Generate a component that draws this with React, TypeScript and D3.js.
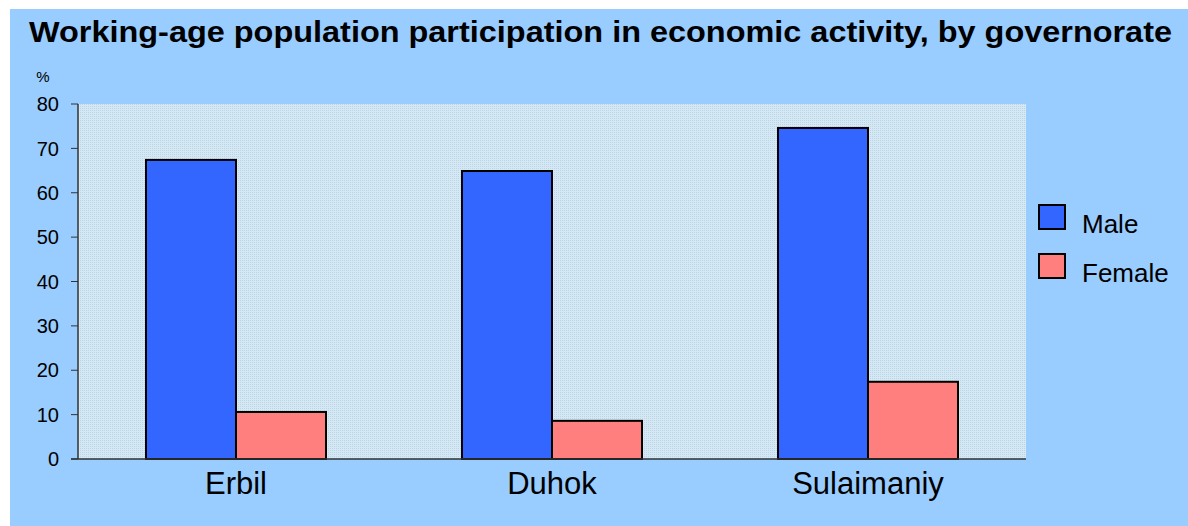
import React from 'react'
import * as d3 from 'd3'

const categories = ['Erbil', 'Duhok', 'Sulaimaniy']
const seriesNames = ['Male', 'Female']
const maleValues = [67.4, 64.9, 74.6]
const femaleValues = [10.6, 8.6, 17.4]
const yTicks = [0, 10, 20, 30, 40, 50, 60, 70, 80]
const seriesColors = ['#3366FF', '#FF7F7F']

const W = 1188
const H = 526
const plot = { left: 78, right: 1026, top: 104, bottom: 459 }

const App = () => {
  const x = d3.scaleBand<string>()
    .domain(categories)
    .range([plot.left, plot.right])
    .paddingInner(0)
    .paddingOuter(0)
  const y = d3.scaleLinear().domain([0, 80]).range([plot.bottom, plot.top])
  const groupW = 180
  const inner = d3.scaleBand<string>().domain(seriesNames).range([0, groupW])
  const values = [maleValues, femaleValues]
  const font = 'Arial, "Liberation Sans", sans-serif'

  return (
    <svg width={W} height={H} style={{ position: 'absolute', left: 0, top: 0 }} fontFamily={font}>
      <defs>
        <pattern id="dots" width="2" height="2" patternUnits="userSpaceOnUse">
          <rect width="2" height="2" fill="#d6e8f2" />
          <rect width="1" height="1" fill="#bad6ea" />
        </pattern>
      </defs>
      <rect x={0} y={0} width={W} height={H} fill="#ffffff" />
      <rect x={10} y={9} width={W - 10} height={H - 9} fill="#99CCFF" />
      <text x={29} y={42} fontSize={30} fontWeight="bold" fill="#000" textLength={1143} lengthAdjust="spacingAndGlyphs">
        Working-age population participation in economic activity, by governorate
      </text>
      <rect x={plot.left} y={plot.top} width={plot.right - plot.left} height={plot.bottom - plot.top} fill="url(#dots)" />
      <text x={43} y={82} fontSize={15} textAnchor="middle">%</text>
      {yTicks.map((t) => (
        <g key={t}>
          <line x1={71} x2={plot.left} y1={y(t)} y2={y(t)} stroke="#333" strokeWidth={1} />
          <text x={59} y={y(t)} dy="0.36em" fontSize={20} textAnchor="end">{t}</text>
        </g>
      ))}
      {categories.map((c, i) => {
        const gx = (x(c) ?? 0) + (x.bandwidth() - groupW) / 2
        return (
          <g key={c}>
            {seriesNames.map((s, j) => (
              <rect
                key={s}
                x={gx + (inner(s) ?? 0)}
                y={y(values[j][i])}
                width={inner.bandwidth()}
                height={y(0) - y(values[j][i])}
                fill={seriesColors[j]}
                stroke="#000"
                strokeWidth={2}
              />
            ))}
            <text x={(x(c) ?? 0) + x.bandwidth() / 2} y={494} fontSize={31} textAnchor="middle">{c}</text>
          </g>
        )
      })}
      <line x1={plot.left} x2={plot.left} y1={plot.top} y2={plot.bottom} stroke="#333" strokeWidth={1.5} />
      <line x1={71} x2={plot.right} y1={plot.bottom} y2={plot.bottom} stroke="#333" strokeWidth={1.5} />
      {seriesNames.map((s, j) => (
        <g key={s} transform={`translate(1039, ${205 + j * 49})`}>
          <rect width={26} height={24} fill={seriesColors[j]} stroke="#000" strokeWidth={2} />
          <text x={43} y={28} fontSize={26}>{s}</text>
        </g>
      ))}
    </svg>
  )
}

export default App
